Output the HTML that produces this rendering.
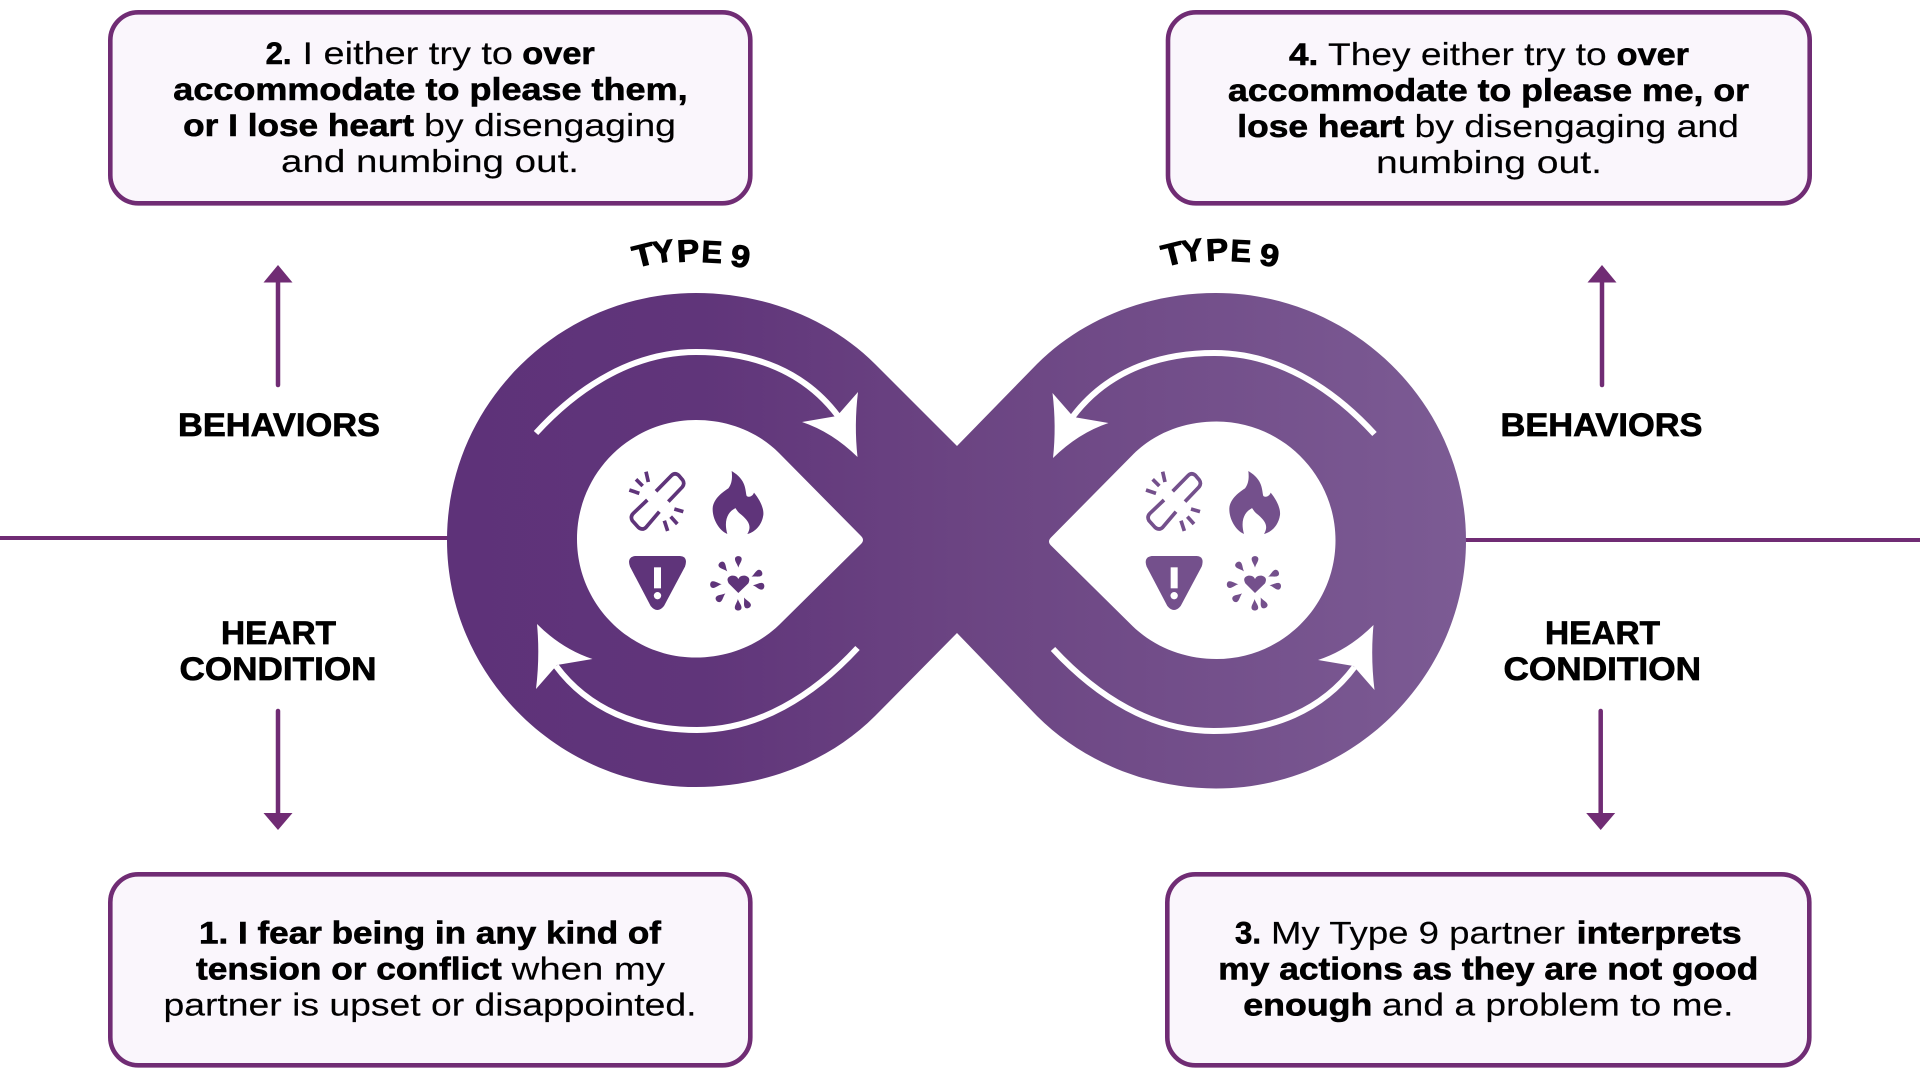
<!DOCTYPE html>
<html><head><meta charset="utf-8"><style>
html,body{margin:0;padding:0;background:#fff;width:1920px;height:1080px;overflow:hidden}
svg{display:block}
text{font-family:"Liberation Sans",sans-serif;fill:#000}
.t text,.t{font-size:31.5px}
.t text{stroke:#000;stroke-width:.15px}
.t text.b{font-weight:700;stroke:#000;stroke-width:.6px}
.l{font-weight:700;font-size:32.5px;stroke:#000;stroke-width:.7px}
.ty{font-weight:700;font-size:31px;stroke:#000;stroke-width:.9px}
</style></head><body>
<svg width="1920" height="1080" viewBox="0 0 1920 1080" xmlns="http://www.w3.org/2000/svg">
<defs>
<linearGradient id="g" gradientUnits="userSpaceOnUse" x1="447" y1="0" x2="1466" y2="0">
<stop offset="0" stop-color="#5e3279"/><stop offset=".25" stop-color="#60357a"/><stop offset=".5" stop-color="#6b4482"/><stop offset="1" stop-color="#7c5b94"/>
</linearGradient>
<g id="ar" fill="#fff">
<path d="M536 433C580 385 635 352 696 352C755 352 805 372 838 416" fill="none" stroke="#fff" stroke-width="6"/>
<path d="M858 392Q854 425 857.500 457Q832 432 802 422L837 416Z"/>
<path d="M857.500 648C813 696 758 730 697 730C638 730 588 709 556 666" fill="none" stroke="#fff" stroke-width="6"/>
<path d="M536 689Q540 656 537 624Q562 649 592.500 659L557 665Z"/>
</g>
<g id="ic">
<g fill="none" stroke-width="11" stroke-linecap="butt">
<path d="M288 214L335 166Q345 157 356 166L368 180Q375 190 367 201L325 245"/>
<path d="M262 240L220 280Q210 290 217 302L235 322Q247 332 258 322L298 275"/>
<path d="M258 155L265 186M228 178L248 198M208 210L238 220M343 267L370 275M332 290L352 312M313 302L323 333"/>
</g>
<g stroke="none">
<path d="M515 153C560 180 555 210 560 228C570 235 580 225 582 218C600 240 612 265 610 285C605 320 580 338 562 342C575 320 568 305 545 285C530 275 527 262 525 265C505 275 490 300 502 342C475 330 457 295 458 265C460 235 490 215 505 205C517 190 517 170 515 153Z"/>
<path d="M225 408L360 408Q385 410 375 440L312 558Q292 582 272 558L210 440Q200 412 225 408Z"/>
<path d="M535 519L506 490Q496 472 515 467Q530 465 535 477Q540 465 555 467Q574 472 565 490Z"/>
<g transform="translate(532 490)">
<path d="M3 -47C0 -58 -8 -66 -7 -74C-6 -84 12 -84 13 -74C14 -66 6 -58 3 -47Z"/>
<path transform="rotate(-40)" d="M0 -47C-3 -58 -11 -66 -10 -74C-9 -84 9 -84 10 -74C11 -66 3 -58 0 -47Z"/>
<path transform="rotate(65)" d="M0 -47C-3 -58 -11 -66 -10 -74C-9 -84 9 -84 10 -74C11 -66 3 -58 0 -47Z"/>
<path transform="rotate(97)" d="M0 -47C-3 -58 -11 -66 -10 -74C-9 -84 9 -84 10 -74C11 -66 3 -58 0 -47Z"/>
<path transform="rotate(155)" d="M0 -47C-3 -58 -11 -66 -10 -74C-9 -84 9 -84 10 -74C11 -66 3 -58 0 -47Z"/>
<path transform="rotate(178)" d="M0 -47C-3 -58 -11 -66 -10 -74C-9 -84 9 -84 10 -74C11 -66 3 -58 0 -47Z"/>
<path transform="rotate(230)" d="M0 -47C-3 -58 -11 -66 -10 -74C-9 -84 9 -84 10 -74C11 -66 3 -58 0 -47Z"/>
<path transform="rotate(-93)" d="M0 -47C-3 -58 -11 -66 -10 -74C-9 -84 9 -84 10 -74C11 -66 3 -58 0 -47Z"/>
</g>
</g>
<rect x="282" y="442" width="21" height="63" fill="#fff" stroke="none"/>
<circle cx="292.500" cy="527" r="11" fill="#fff" stroke="none"/>
</g>
</defs>

<!-- horizontal lines -->
<rect x="0" y="536" width="450" height="4" fill="#702c74"/>
<rect x="1460" y="538" width="460" height="4" fill="#702c74"/>

<!-- infinity body -->
<path fill="url(#g)" d="M957 446L875 364C830 319 765 293 696 293C559.600 293 447 403.600 447 540C447 676.400 559.600 787 696 787C765 787 830 761 875 716L957 633L1037 716C1082 761 1147 788.500 1216 788.500C1352.400 788.500 1466 677 1466 540.500C1466 404 1352.400 293 1216 293C1147 293 1082 319 1037 364Z"/>

<!-- teardrops -->
<path fill="#fff" d="M861 536L779 453C757 431 727 420 696 420C630.300 420 577 473.300 577 539C577 604.700 630.300 657.500 696 657.500C727 657.500 757 646 779 625L861 544Q865 540 861 536Z"/>
<path fill="#fff" d="M1051 537.500L1133 454.500C1155 432.500 1185 421.500 1216.500 421.500C1282 421.500 1335.500 475 1335.500 540.500C1335.500 606 1282 659 1216.500 659C1185 659 1155 647.500 1133 626.500L1051 545.500Q1047 541.500 1051 537.500Z"/>

<!-- curved arrows -->
<use href="#ar"/>
<use href="#ar" transform="translate(1910.500 1) scale(-1 1)"/>

<!-- icons -->
<g transform="translate(560 420) scale(.33333)" fill="#5f347a" stroke="#5f347a"><use href="#ic"/></g>
<g transform="translate(1076.670 420) scale(.33333)" fill="#74508c" stroke="#74508c"><use href="#ic"/></g>

<!-- TYPE 9 -->
<text class="ty" transform="translate(635.500 268) rotate(-14) scale(1.15 1)">T</text>
<text class="ty" transform="translate(654 263.500) rotate(-8) scale(1.05 1)">Y</text>
<text class="ty" transform="translate(677.500 262) rotate(-3) scale(1.08 1)">P</text>
<text class="ty" transform="translate(701 262) rotate(3) scale(1 1)">E</text>
<text class="ty" transform="translate(729.500 265.500) rotate(8) scale(1.12 1)">9</text>
<text class="ty" transform="translate(1164.500 267) rotate(-14) scale(1.15 1)">T</text>
<text class="ty" transform="translate(1183 262.500) rotate(-8) scale(1.05 1)">Y</text>
<text class="ty" transform="translate(1206.500 261) rotate(-3) scale(1.08 1)">P</text>
<text class="ty" transform="translate(1230 261) rotate(3) scale(1 1)">E</text>
<text class="ty" transform="translate(1258.500 264.500) rotate(8) scale(1.12 1)">9</text>

<!-- side arrows -->
<g stroke="#702c74" stroke-width="4.500" stroke-linecap="round" fill="none">
<path d="M278 280V385"/><path d="M1602 280V385"/>
<path d="M278 711V816"/><path d="M1600.700 711V816"/>
</g>
<g fill="#702c74">
<path d="M278 265L292.500 282.500H263.500Z"/><path d="M1602 265L1616.500 282.500H1587.500Z"/>
<path d="M278 830L263.500 813H292.500Z"/><path d="M1600.700 830L1586.200 813H1615.200Z"/>
</g>

<!-- side labels -->
<text class="l" x="178" y="436" textLength="202" lengthAdjust="spacingAndGlyphs">BEHAVIORS</text>
<text class="l" x="221" y="644" textLength="115" lengthAdjust="spacingAndGlyphs">HEART</text>
<text class="l" x="179.500" y="680" textLength="197" lengthAdjust="spacingAndGlyphs">CONDITION</text>
<text class="l" x="1500.500" y="436" textLength="202" lengthAdjust="spacingAndGlyphs">BEHAVIORS</text>
<text class="l" x="1545" y="644" textLength="115" lengthAdjust="spacingAndGlyphs">HEART</text>
<text class="l" x="1503.500" y="680" textLength="197.500" lengthAdjust="spacingAndGlyphs">CONDITION</text>

<!-- boxes -->
<g fill="#faf6fc" stroke="#702c74" stroke-width="4.600">
<rect x="110.300" y="12.300" width="640" height="191" rx="28" ry="28"/>
<rect x="1168" y="12.300" width="641.700" height="191" rx="28" ry="28"/>
<rect x="110.300" y="874.300" width="640" height="191" rx="28" ry="28"/>
<rect x="1167.300" y="874.300" width="642" height="191" rx="28" ry="28"/>
</g>

<g class="t">
<!-- box 2 -->
<text class="b" x="265.600" y="64" textLength="26" lengthAdjust="spacingAndGlyphs">2.</text>
<text x="302.500" y="64" textLength="210.500" lengthAdjust="spacingAndGlyphs">I either try to</text>
<text class="b" x="522.300" y="64" textLength="72.500" lengthAdjust="spacingAndGlyphs">over</text>
<text class="b" x="173.300" y="100" textLength="514.300" lengthAdjust="spacingAndGlyphs">accommodate to please them,</text>
<text class="b" x="183.200" y="136" textLength="230.800" lengthAdjust="spacingAndGlyphs">or I lose heart</text>
<text x="424" y="136" textLength="252" lengthAdjust="spacingAndGlyphs">by disengaging</text>
<text x="281" y="172" textLength="298" lengthAdjust="spacingAndGlyphs">and numbing out.</text>

<!-- box 4 -->
<text class="b" x="1289" y="65" textLength="29.300" lengthAdjust="spacingAndGlyphs">4.</text>
<text x="1328" y="65" textLength="278.700" lengthAdjust="spacingAndGlyphs">They either try to</text>
<text class="b" x="1616.700" y="65" textLength="72.300" lengthAdjust="spacingAndGlyphs">over</text>
<text class="b" x="1228" y="101" textLength="521" lengthAdjust="spacingAndGlyphs">accommodate to please me, or</text>
<text class="b" x="1237.300" y="137" textLength="167" lengthAdjust="spacingAndGlyphs">lose heart</text>
<text x="1414.500" y="137" textLength="324.500" lengthAdjust="spacingAndGlyphs">by disengaging and</text>
<text x="1376" y="173" textLength="226" lengthAdjust="spacingAndGlyphs">numbing out.</text>

<!-- box 1 -->
<text class="b" x="199" y="943.500" textLength="462" lengthAdjust="spacingAndGlyphs">1. I fear being in any kind of</text>
<text class="b" x="196" y="979.500" textLength="305.700" lengthAdjust="spacingAndGlyphs">tension or conflict</text>
<text x="511.700" y="979.500" textLength="153.300" lengthAdjust="spacingAndGlyphs">when my</text>
<text x="163.500" y="1015.500" textLength="533" lengthAdjust="spacingAndGlyphs">partner is upset or disappointed.</text>

<!-- box 3 -->
<text class="b" x="1235" y="943.500" textLength="26" lengthAdjust="spacingAndGlyphs">3.</text>
<text x="1271" y="943.500" textLength="294" lengthAdjust="spacingAndGlyphs">My Type 9 partner</text>
<text class="b" x="1576.700" y="943.500" textLength="165" lengthAdjust="spacingAndGlyphs">interprets</text>
<text class="b" x="1218.300" y="979.500" textLength="540" lengthAdjust="spacingAndGlyphs">my actions as they are not good</text>
<text class="b" x="1243.300" y="1015.500" textLength="129" lengthAdjust="spacingAndGlyphs">enough</text>
<text x="1382" y="1015.500" textLength="351.500" lengthAdjust="spacingAndGlyphs">and a problem to me.</text>
</g>
</svg>
</body></html>
